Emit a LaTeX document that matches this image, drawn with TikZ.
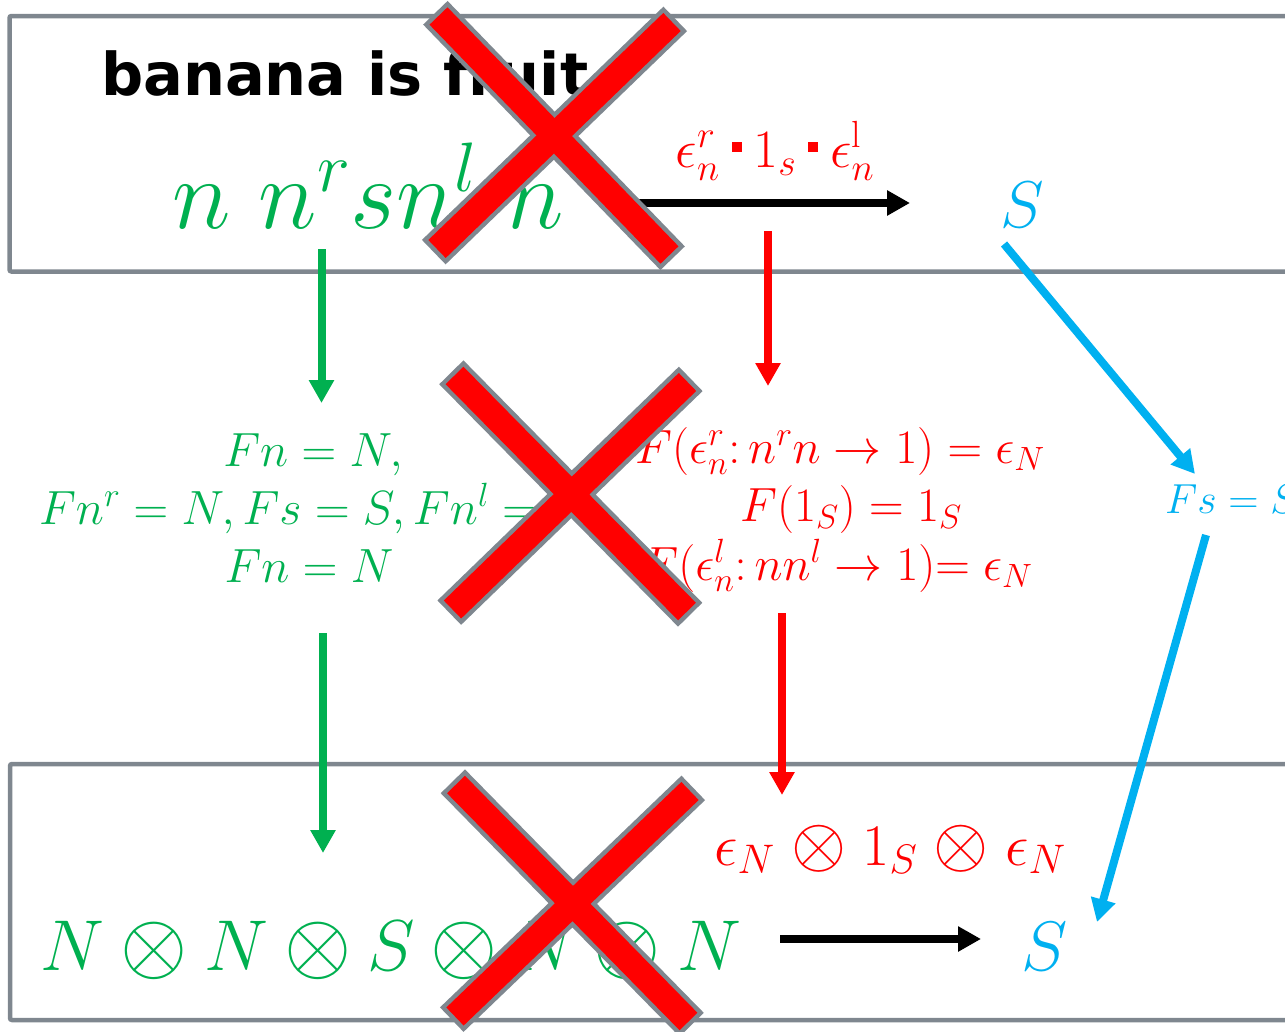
\RequirePackage{fix-cm}
\documentclass[tikz,border=0pt]{standalone}
\usepackage{fontspec}
\newfontfamily\titlefont{DejaVu Sans}
\usetikzlibrary{arrows.meta,calc}
\definecolor{cgreen}{RGB}{0,176,80}
\definecolor{cred}{RGB}{255,0,0}
\definecolor{cblue}{RGB}{0,176,240}
\definecolor{cgray}{RGB}{127,135,143}
\newcommand\fs[1]{\fontsize{#1}{#1}\selectfont}
\newcommand\Ot[1]{\mathbin{\mkern#1mu\raisebox{-0.03em}{\scalebox{1.2}{$\otimes$}}\mkern#1mu}}
\newcommand\redsq{\mathord{\raisebox{15pt}{\rule{10pt}{10pt}}}}
\newcommand\drawX[4]{%
  \draw[xgray] ($(#1)!-4.5pt!(#2)$) -- ($(#2)!-4.5pt!(#1)$)
               ($(#3)!-4.5pt!(#4)$) -- ($(#4)!-4.5pt!(#3)$);
  \draw[xred] (#1) -- (#2) (#3) -- (#4);}
\begin{document}
\begin{tikzpicture}[x=1pt,y=-1pt,
  every node/.style={inner sep=0pt,outer sep=0pt},
  arr/.style={line width=8pt,-{Triangle[length=23pt,width=24pt]}},
  frame/.style={draw=cgray,line width=4.5pt,rounded corners=2pt},
  xgray/.style={draw=cgray,line width=34pt},
  xred/.style={draw=cred,line width=25pt}]
\useasboundingbox (0,0) rectangle (1285,1031);
\clip (0,0) rectangle (1285,1031);

% frames
\draw[frame] (9.5,16) rectangle (1330,271.5);
\draw[frame] (10,764) rectangle (1330,1020);

% top row
\node[anchor=base west] (title) at (101,95) {\titlefont\bfseries\fs{59}banana is fruit};
\node[anchor=base,text=cgreen] (words) at (368,228) {\fs{100}$n\; n^r s n^l\; n$};
\node[anchor=base,text=cred] (lab) at (775,167) {\fs{54}$\epsilon_n^r\:\redsq\:1_s\:\redsq\:\epsilon_n^{\mathrm{l}}$};
\node[anchor=base,text=cblue] (stop) at (1022,227) {\fs{66}$S$};

% middle row
\node[anchor=base,text=cgreen] (g1) at (313,466) {\fs{48}$Fn = N,$};
\node[anchor=base,text=cgreen] (g2) at (316,524) {\fs{48}$Fn^r = N, Fs = S, Fn^l = N$};
\node[anchor=base,text=cgreen] (g3) at (309,582) {\fs{48}$Fn = N$};
\node[anchor=base,text=cred] (r1) at (840,463) {\fs{48}$F(\epsilon_n^r\colon n^r n\to 1) = \epsilon_N$};
\node[anchor=base,text=cred] (r2) at (851,521) {\fs{48}$F(1_S) = 1_S$};
\node[anchor=base,text=cred] (r3) at (837,580) {\fs{48}$F(\epsilon_n^l\colon n n^l\to 1)\mskip-5mu=\epsilon_N$};
\node[anchor=base west,text=cblue] (fsb) at (1165,513) {\fs{42}$Fs = S$};

% bottom row
\node[anchor=base,text=cred] (eps) at (890,865) {\fs{59}$\epsilon_N\Ot{1} 1_S\Ot{1}\epsilon_N$};
\node[anchor=base,text=cgreen] (prod) at (391,970) {\fs{72}$N\Ot{0} N\Ot{0} S\Ot{0} N\Ot{0} N$};
\node[anchor=base,text=cblue] (sbot) at (1045,970) {\fs{70}$S$};

% arrow end points
\coordinate (ga1) at (321.5,249); \coordinate (gb1) at (321.5,403);
\coordinate (ra1) at (768,231);   \coordinate (rb1) at (768,386);
\coordinate (ba1) at (1004,244);  \coordinate (bb1) at (1195,474);
\coordinate (ga2) at (323,633);   \coordinate (gb2) at (323,853);
\coordinate (ra2) at (782,613);   \coordinate (rb2) at (782,795);
\coordinate (ba2) at (1206,535);  \coordinate (bb2) at (1097,922);
\coordinate (ka1) at (630,203);   \coordinate (kb1) at (910,203);
\coordinate (ka2) at (780,939);   \coordinate (kb2) at (981,939);

\draw[arr,cgreen] (ga1) -- (gb1);
\draw[arr,cred] (ra1) -- (rb1);
\draw[arr,cblue] (ba1) -- (bb1);
\draw[arr,cgreen] (ga2) -- (gb2);
\draw[arr,cred] (ra2) -- (rb2);
\draw[arr,cblue] (ba2) -- (bb2);
\draw[arr,black] (ka1) -- (kb1);
\draw[arr,black] (ka2) -- (kb2);

% crosses
\drawX{438.5,16}{669.5,255}{672,22}{437,249}
\drawX{454.5,375.5}{687,611.5}{687.5,382}{452.5,609.5}
\drawX{456,784.5}{688.5,1021.5}{690,791}{455,1016.5}
\end{tikzpicture}
\end{document}
